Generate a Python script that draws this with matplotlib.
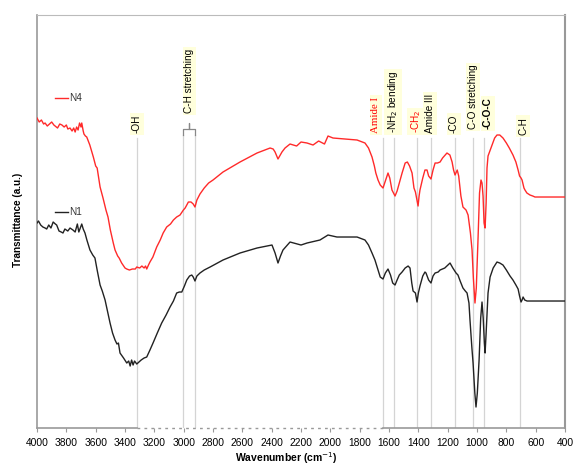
import numpy as np
import matplotlib
matplotlib.use('Agg')
import matplotlib.pyplot as plt

plt.rcParams['font.family'] = ['Liberation Sans', 'DejaVu Sans']

# N4 spectrum (wavenumber, transmittance a.u.)
n4_wn = [4000, 3985, 3970, 3955, 3945, 3930, 3915, 3900, 3885, 3877, 3860, 3845, 3830, 3815,
         3800, 3790, 3775, 3761, 3750, 3740, 3730, 3720, 3710, 3700, 3695, 3685, 3680, 3670,
         3661, 3640, 3616, 3600, 3590, 3570, 3550, 3530, 3516, 3500, 3480, 3468, 3450, 3440,
         3423, 3400, 3388, 3370, 3350, 3330, 3320, 3300, 3285, 3270, 3260, 3252, 3240, 3230,
         3210, 3184, 3160, 3140, 3116, 3090, 3070, 3048, 3025, 3002, 2990, 2968, 2950, 2935,
         2923, 2910, 2889, 2860, 2830, 2800, 2732, 2616, 2500, 2411, 2390, 2377, 2357,
         2330, 2309, 2275, 2230, 2200, 2159, 2118, 2080, 2040, 2016, 1982, 1900, 1818,
         1764, 1740, 1716, 1700, 1690, 1675, 1660, 1641, 1625, 1607, 1595, 1580, 1559, 1545,
         1530, 1511, 1490, 1475, 1460, 1443, 1430, 1420, 1402, 1395, 1389, 1370, 1355, 1341,
         1330, 1314, 1300, 1286, 1270, 1252, 1235, 1205, 1185, 1170, 1160, 1150, 1135, 1125,
         1110, 1096, 1075, 1061, 1045, 1034, 1025, 1014, 1005, 993, 983, 973, 966, 959, 952,
         945, 938, 932, 925, 910, 898, 880, 864, 845, 823, 800, 780, 755, 735, 720, 710, 700,
         693, 680, 673, 660, 639, 620, 605, 400]
n4_t = [310, 306, 308, 304, 305, 302, 304, 306, 303, 302, 300, 304, 303, 301,
        303, 299, 300, 297, 300, 296, 301, 298, 305, 301, 305, 297, 294, 292,
        291, 283, 271, 262, 260, 241, 230, 218, 211, 198, 185, 178, 172, 170,
        165, 160, 159, 158, 159, 159, 161, 160, 162, 160, 162, 159, 163, 166,
        171, 181, 188, 195, 201, 204, 208, 211, 213, 218, 220, 226, 226, 224,
        221, 228, 234, 240, 245, 248, 256, 266, 275, 280, 279, 276, 269,
        276, 280, 284, 282, 286, 285, 283, 287, 284, 292, 290, 289, 288,
        285, 280, 271, 262, 255, 248, 243, 240, 247, 255, 250, 238, 232, 237,
        245, 255, 265, 266, 262, 255, 240, 236, 222, 232, 238, 250, 258, 258,
        252, 249, 258, 265, 265, 266, 270, 275, 273, 266, 258, 253, 258, 252,
        232, 221, 218, 213, 195, 178, 150, 125, 140, 190, 235, 248, 245, 232, 205,
        200, 225, 260, 272, 278, 283, 290, 293, 293, 290, 285, 280, 273, 266, 258, 252, 250,
        248, 240, 238, 235, 233, 232, 231, 231]

# N1 spectrum
n1_wn = [4000, 3990, 3975, 3960, 3945, 3934, 3920, 3905, 3890, 3875, 3866, 3850, 3835, 3823,
         3810, 3790, 3775, 3755, 3740, 3725, 3715, 3705, 3695, 3685, 3673, 3660, 3639, 3620,
         3605, 3590, 3570, 3555, 3536, 3520, 3502, 3485, 3468, 3455, 3445, 3434, 3410, 3388,
         3375, 3365, 3355, 3345, 3335, 3320, 3305, 3290, 3270, 3252, 3230, 3209, 3180, 3150,
         3120, 3093, 3070, 3048, 3030, 3013, 2995, 2979, 2960, 2945, 2935, 2923, 2910, 2889,
         2860, 2820, 2732, 2616, 2500, 2398, 2377, 2357, 2340, 2323, 2275, 2200, 2159, 2071,
         2016, 1955, 1900, 1818, 1764, 1740, 1716, 1696, 1675, 1660, 1641, 1625, 1607, 1590,
         1575, 1559, 1545, 1530, 1511, 1490, 1470, 1457, 1445, 1436, 1420, 1409, 1400, 1389,
         1370, 1355, 1348, 1330, 1314, 1300, 1286, 1265, 1252, 1220, 1184, 1165, 1143, 1130,
         1115, 1096, 1080, 1068, 1055, 1048, 1035, 1027, 1015, 1007, 998, 986, 975, 966, 958,
         950, 945, 938, 925, 911, 890, 864, 845, 823, 800, 775, 755, 735, 720, 710, 700, 693,
         686, 675, 659, 640, 618, 400]
n1_t = [205, 207, 203, 201, 200, 199, 203, 200, 206, 204, 203, 197, 196, 195,
        199, 197, 200, 198, 196, 204, 196, 200, 204, 199, 195, 188, 178, 173,
        170, 158, 143, 137, 128, 117, 105, 95, 88, 84, 85, 75, 70, 65,
        67, 62, 68, 63, 67, 64, 66, 68, 70, 71, 78, 85, 95, 105,
        113, 121, 127, 135, 136, 136, 142, 148, 152, 153, 151, 147, 152, 155,
        158, 161, 168, 175, 180, 183, 175, 165, 172, 178, 186, 183, 185, 188,
        193, 191, 191, 191, 188, 183, 175, 168, 158, 151, 149, 155, 159, 153,
        145, 143, 148, 153, 156, 160, 162, 160, 145, 137, 135, 126, 135, 142,
        152, 156, 155, 148, 145, 152, 155, 156, 158, 160, 165, 160, 155, 153,
        147, 140, 137, 135, 125, 108, 80, 65, 35, 21, 35, 68, 110, 126, 110,
        85, 75, 95, 135, 151, 160, 166, 165, 163, 158, 152, 148, 143, 139, 132, 126, 128,
        131, 128, 127, 127, 127, 127]

# band assignment lines
band_wn = [3318, 3002, 2923, 1639, 1566, 1411, 1316, 1150, 1025, 952, 707]
band_top = [290, 293, 293, 290, 290, 290, 290, 290, 290, 290, 290]

# labels: (text, x, bottom, colour, weight, family)
labels = [('-OH', 3318, 295, 'black', 'normal', 'sans'),
          ('C-H stretching', 2962, 315, 'black', 'normal', 'sans'),
          ('Amide I', 1689, 295, 'red', 'normal', 'serif'),
          ('-NH$_2$ bending', 1573, 295, 'black', 'normal', 'sans'),
          ('-CH$_2$', 1416, 295, 'red', 'normal', 'sans'),
          ('Amide III', 1320, 295, 'black', 'normal', 'sans'),
          ('-CO', 1157, 295, 'black', 'normal', 'sans'),
          ('C-O stretching', 1027, 299, 'black', 'normal', 'sans'),
          ('-C-O-C', 925, 299, 'black', 'bold', 'sans'),
          ('C-H', 686, 293, 'black', 'normal', 'sans')]

xticks = list(range(4000, 399, -200))

fig = plt.figure(figsize=(5.73, 4.66), dpi=100)
ax = fig.add_axes([0.0646, 0.0815, 0.9215, 0.8863])

for w, t in zip(band_wn, band_top):
    ax.plot([w, w], [0, t], color='#d4d4d4', lw=0.9, zorder=1)

# bracket for C-H stretching
ax.plot([3002, 3002, 2962, 2962, 2962, 2923, 2923],
        [293, 299, 299, 305, 299, 299, 293], color='#888888', lw=0.9)

ax.plot(n4_wn, n4_t, color='#ff2a2a', lw=1.0, zorder=3)
ax.plot(n1_wn, n1_t, color='#222222', lw=1.0, zorder=3)

for txt, x, y, c, wt, fam in labels:
    f = ['Liberation Serif'] if fam == 'serif' else ['Liberation Sans', 'DejaVu Sans']
    fs = 7.8 if fam == 'serif' else 7.2
    ax.text(x, y, txt, rotation=90, ha='center', va='bottom', fontsize=fs,
            color=c, fontweight=wt, family=f,
            bbox=dict(facecolor='#ffffdc', edgecolor='none', pad=1.2))

# legend entries next to curves
ax.plot([3877, 3789], [330, 330], color='#ff2a2a', lw=1.0)
ax.text(3780, 330, 'N4', va='center', ha='left', fontsize=7.2, color='#333333')
ax.plot([3877, 3789], [216, 216], color='#222222', lw=1.0)
ax.text(3780, 216, 'N1', va='center', ha='left', fontsize=7.2, color='#333333')

# bottom axis: solid, dotted, solid
ax.plot([4000, 3318], [0, 0], color='#999999', lw=1.2, clip_on=False)
ax.plot([3318, 1639], [0, 0], color='#999999', lw=1.0, ls=(0, (2, 3)), clip_on=False)
ax.plot([1639, 400], [0, 0], color='#999999', lw=1.2, clip_on=False)

ax.set_xlim(4000, 400)
ax.set_ylim(0, 413)
ax.set_xticks(xticks)
ax.set_yticks([])
ax.tick_params(axis='x', direction='out', length=3, width=0.8, color='#999999',
               labelsize=7.4, pad=4)
ax.spines['bottom'].set_visible(False)
ax.spines['left'].set_color('#999999')
ax.spines['left'].set_linewidth(1.2)
ax.spines['top'].set_color('#bbbbbb')
ax.spines['right'].set_color('#999999')
ax.spines['right'].set_linewidth(1.5)

fig.text(0.032, 0.528, 'Transmittance (a.u.)', rotation=90, ha='center', va='center',
         fontsize=7.2, fontweight='bold')
fig.text(0.5, 0.017, 'Wavenumber (cm$^{-1}$)', ha='center', va='center',
         fontsize=7.5, fontweight='bold')

fig.savefig('out.png', dpi=100)
